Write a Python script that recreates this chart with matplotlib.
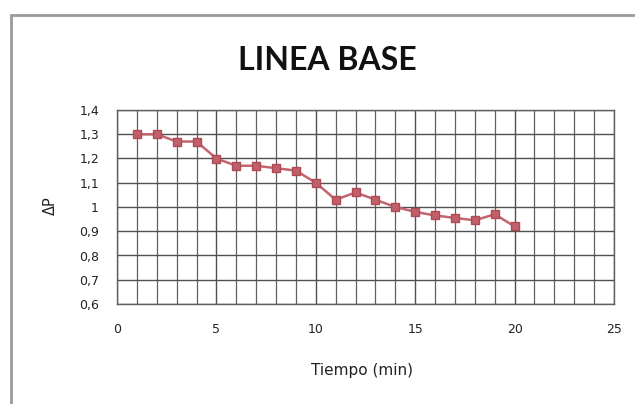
import matplotlib
matplotlib.use("Agg")
import matplotlib.pyplot as plt
from matplotlib.patches import Rectangle
from matplotlib.ticker import MultipleLocator, FuncFormatter

tiempo = [1, 2, 3, 4, 5, 6, 7, 8, 9, 10, 11, 12, 13, 14, 15, 16, 17, 18, 19, 20]
delta_p = [1.30, 1.30, 1.27, 1.27, 1.20, 1.17, 1.17, 1.16, 1.15, 1.10,
           1.03, 1.06, 1.03, 1.00, 0.98, 0.965, 0.955, 0.945, 0.97, 0.92]
title = "LINEA BASE"
xlabel = "Tiempo (min)"
ylabel = "ΔP"

plt.rcParams['font.family'] = ['DejaVu Sans']

fig = plt.figure(figsize=(6.35, 4.04), dpi=100)
fig.patch.set_facecolor('white')

# chart-area border (extends beyond right/bottom edge as in reference)
border = Rectangle((11/635, -0.05), 1.2, 0.963 + 0.05, transform=fig.transFigure,
                   fill=False, edgecolor='#9a9a9a', linewidth=2.0, clip_on=False)
fig.patches.append(border)

ax = fig.add_axes([117/635, 1 - 304/404, (614 - 117)/635, (304 - 110)/404])
ax.plot(tiempo, delta_p, color='#c4646e', linewidth=1.8, marker='s',
        markersize=5.5, markerfacecolor='#c0606a', markeredgecolor='#b04a55', zorder=3)

ax.set_xlim(0, 25)
ax.set_ylim(0.6, 1.4)
ax.xaxis.set_major_locator(MultipleLocator(5))
ax.xaxis.set_minor_locator(MultipleLocator(1))
ax.yaxis.set_major_locator(MultipleLocator(0.1))
ax.grid(True, which='major', color='#505050', linewidth=1.0)
ax.grid(True, which='minor', axis='x', color='#606060', linewidth=0.9)
ax.set_axisbelow(True)
for s in ax.spines.values():
    s.set_color('#606060')
    s.set_linewidth(1.0)

def yfmt(v, pos):
    s = f"{v:.1f}".replace('.', ',')
    if s.endswith(',0'):
        s = s[:-2]
    return s

ax.yaxis.set_major_formatter(FuncFormatter(yfmt))
ax.tick_params(which='both', length=0, labelsize=9, colors='#222222')
ax.tick_params(axis='x', pad=14)
ax.tick_params(axis='y', pad=13)

fig.text(327/635, 1 - 60/404, title, ha='center', va='center',
         fontsize=23, fontweight='bold', color='#111111', family='Lato')
fig.text(362/635, 1 - 371/404, xlabel, ha='center', va='center',
         fontsize=11, color='#222222')
fig.text(50/635, 1 - 206/404, ylabel, ha='center', va='center',
         fontsize=10.5, color='#222222', rotation=90)

fig.savefig("out.png", dpi=100, facecolor='white')
